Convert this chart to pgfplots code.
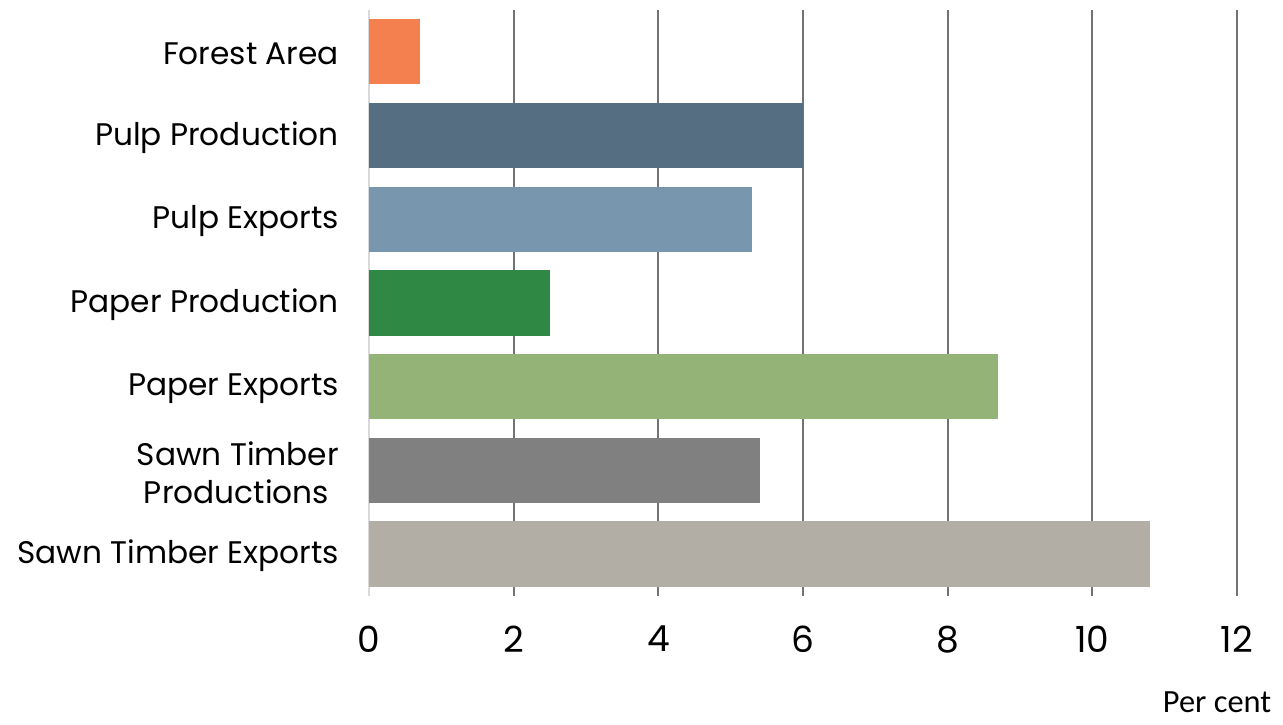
\documentclass[border=0pt]{standalone}
\usepackage{pgfplots}
\pgfplotsset{compat=1.18}
\usepackage{fontspec}
\setmainfont{Poppins}
\newfontfamily\calibri{Carlito}
\definecolor{forest}{HTML}{F4804F}
\definecolor{pulpprod}{HTML}{566E82}
\definecolor{pulpexp}{HTML}{7896AE}
\definecolor{paperprod}{HTML}{2F8843}
\definecolor{paperexp}{HTML}{93B377}
\definecolor{sawnprod}{HTML}{808080}
\definecolor{sawnexp}{HTML}{B3AEA5}
\begin{document}
\begin{tikzpicture}
\begin{axis}[
    width=434pt, height=293pt, scale only axis,
    xmin=0, xmax=12, ymin=-0.5, ymax=6.5,
    xbar, bar width=0.78,
    axis line style={draw=none},
    xtick={2,4,...,12},
    extra x ticks={0},
    extra x tick style={grid=major, major grid style={draw=black!15, line width=0.7pt}},
    xmajorgrids, major grid style={draw=black!55, line width=1pt},
    major tick length=0pt,
    ytick={0,...,6},
    yticklabels={Sawn Timber Exports, {Sawn Timber\\Productions\hspace*{5pt}}, Paper Exports, Paper Production, Pulp Exports, Pulp Production, Forest Area},
    yticklabel style={align=right, font=\fontsize{15.6}{19}\selectfont, xshift=-11.5pt, yshift=-1pt},
    xticklabel style={font=\fontsize{18}{22}\selectfont, yshift=-11.5pt},
    /pgf/number format/assume math mode=true,
    xlabel={\calibri Per cent},
    xlabel style={at={(axis description cs:0.977,0)}, anchor=base, inner sep=0pt, yshift=-58.5pt, font=\fontsize{16.2}{19}\selectfont},
    clip=false,
]
\path (rel axis cs:-0.4251,1.017) rectangle (rel axis cs:1.053,-0.220);
\addplot[fill=sawnexp, draw=none, bar shift=0pt] coordinates {(10.8,0)};
\addplot[fill=sawnprod, draw=none, bar shift=0pt] coordinates {(5.4,1)};
\addplot[fill=paperexp, draw=none, bar shift=0pt] coordinates {(8.7,2)};
\addplot[fill=paperprod, draw=none, bar shift=0pt] coordinates {(2.5,3)};
\addplot[fill=pulpexp, draw=none, bar shift=0pt] coordinates {(5.3,4)};
\addplot[fill=pulpprod, draw=none, bar shift=0pt] coordinates {(6.0,5)};
\addplot[fill=forest, draw=none, bar shift=0pt] coordinates {(0.7,6)};
\end{axis}
\end{tikzpicture}
\end{document}
